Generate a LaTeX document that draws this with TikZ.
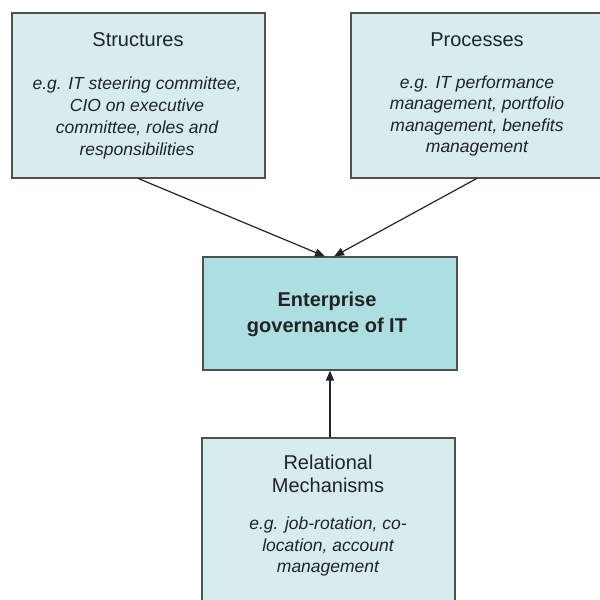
\documentclass[tikz,border=0pt]{standalone}
\usepackage{fontspec}
\setmainfont{Liberation Sans}
\usetikzlibrary{arrows.meta}
\definecolor{boxfill}{RGB}{214,236,238}
\definecolor{corefill}{RGB}{173,222,226}
\definecolor{edgecol}{RGB}{80,80,80}
\definecolor{ink}{RGB}{35,35,35}
\begin{document}
\begin{tikzpicture}[x=1pt,y=-1pt,
  box/.style={draw=edgecol, line width=1.2pt, fill=boxfill, inner sep=0pt},
  title/.style={text=ink, font=\fontsize{20}{23}\selectfont, align=center, inner sep=0pt},
  body/.style={text=ink, font=\fontsize{17.5}{21.5}\selectfont\itshape, align=center, inner sep=0pt},
  arr/.style={draw=ink, line width=1.2pt, -{Triangle[length=10pt,width=8pt]}}]
\useasboundingbox (0,0) rectangle (600,600);
\node[box, minimum width=253pt, minimum height=165pt] (s) at (138.5,95.5) {};
\node[box, minimum width=251pt, minimum height=165pt] (p) at (476.5,95.5) {};
\node[box, fill=corefill, minimum width=254pt, minimum height=113pt] (c) at (330,313.5) {};
\node[box, minimum width=253pt, minimum height=182pt] (r) at (328.5,529) {};
\node[title] (st) at (138,40) {Structures};
\node[body, font=\fontsize{17.5}{22}\selectfont\itshape] (sb) at (137,118) {e.g. IT steering committee,\\CIO on executive\\committee, roles and\\responsibilities};
\node[title] (pt) at (477,40) {Processes};
\node[body] (pb) at (477,116) {e.g. IT performance\\management, portfolio\\management, benefits\\management};
\node[text=ink, font=\fontsize{20}{26}\selectfont\bfseries, align=center, inner sep=0pt] (ct) at (327,314) {Enterprise\\governance of IT};
\node[title] (rt) at (328,473.5) {Relational\\Mechanisms};
\node[body] (rb) at (328,546.5) {e.g. job-rotation, co-\\location, account\\management};
\draw[arr] (s.south) -- ([xshift=-5pt]c.north);
\draw[arr] (p.south) -- ([xshift=4pt]c.north);
\draw[arr] (r.north -| c.south) -- (c.south);
\end{tikzpicture}
\end{document}
